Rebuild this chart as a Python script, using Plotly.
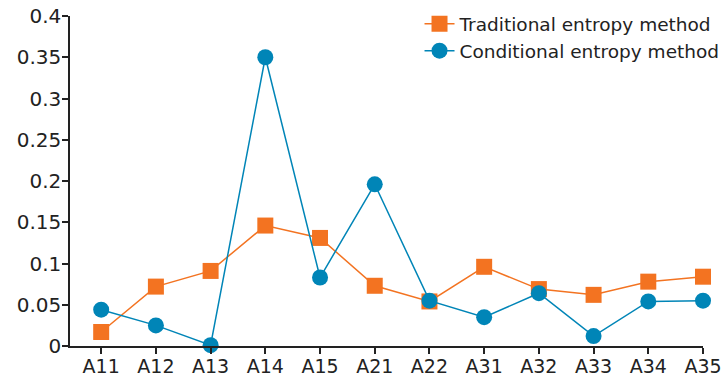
import plotly.graph_objects as go

categories = ["A11", "A12", "A13", "A14", "A15", "A21", "A22", "A31", "A32", "A33", "A34", "A35"]
traditional = [0.017, 0.072, 0.091, 0.146, 0.131, 0.073, 0.054, 0.096, 0.069, 0.062, 0.078, 0.084]
conditional = [0.044, 0.025, 0.001, 0.350, 0.083, 0.196, 0.055, 0.035, 0.064, 0.012, 0.054, 0.055]
y_ticks = [0, 0.05, 0.1, 0.15, 0.2, 0.25, 0.3, 0.35, 0.4]
y_tick_labels = ["0", "0.05", "0.1", "0.15", "0.2", "0.25", "0.3", "0.35", "0.4"]

ORANGE = "#F37321"
BLUE = "#0085B7"

fig = go.Figure()
fig.add_trace(go.Scatter(
    x=categories, y=traditional, name="Traditional entropy method",
    mode="lines+markers", line=dict(color=ORANGE, width=1.5),
    marker=dict(symbol="square", size=16, color=ORANGE),
    cliponaxis=False,
))
fig.add_trace(go.Scatter(
    x=categories, y=conditional, name="Conditional entropy method",
    mode="lines+markers", line=dict(color=BLUE, width=1.5),
    marker=dict(symbol="circle", size=16, color=BLUE),
    cliponaxis=False,
))

fig.update_layout(
    template="none",
    width=726, height=377,
    margin=dict(l=70, r=23, t=16, b=31, autoexpand=False),
    paper_bgcolor="white", plot_bgcolor="white",
    font=dict(family="DejaVu Sans", size=20, color="#222222"),
    showlegend=True,
    legend=dict(
        x=1.034, y=1.033, xanchor="right", yanchor="top",
        bgcolor="rgba(0,0,0,0)", font=dict(size=18.5, color="#222222"),
        itemwidth=30, tracegroupgap=0,
    ),
    xaxis=dict(
        type="category", range=[-0.57, 11], automargin=False,
        showline=True, linecolor="#222222", linewidth=1.5,
        ticks="outside", ticklen=6, tickcolor="#222222", tickwidth=1.5,
        ticklabelstandoff=-4,
        showgrid=False, zeroline=False,
        tickfont=dict(size=19),
    ),
    yaxis=dict(
        range=[0, 0.4], tickvals=y_ticks, ticktext=y_tick_labels, automargin=False,
        showline=True, linecolor="#222222", linewidth=1.5,
        ticks="outside", ticklen=6, tickcolor="#222222", tickwidth=1.5,
        ticklabelstandoff=-3,
        showgrid=False, zeroline=False, ticklabeloverflow="allow",
        tickfont=dict(size=20),
    ),
)

# remove the default 8px page margin so the 726x377 figure fills the window exactly
fig.write_html(
    "out.html",
    config={"displayModeBar": False},
    post_script="document.body.style.margin='0';document.body.style.overflow='hidden';",
)
